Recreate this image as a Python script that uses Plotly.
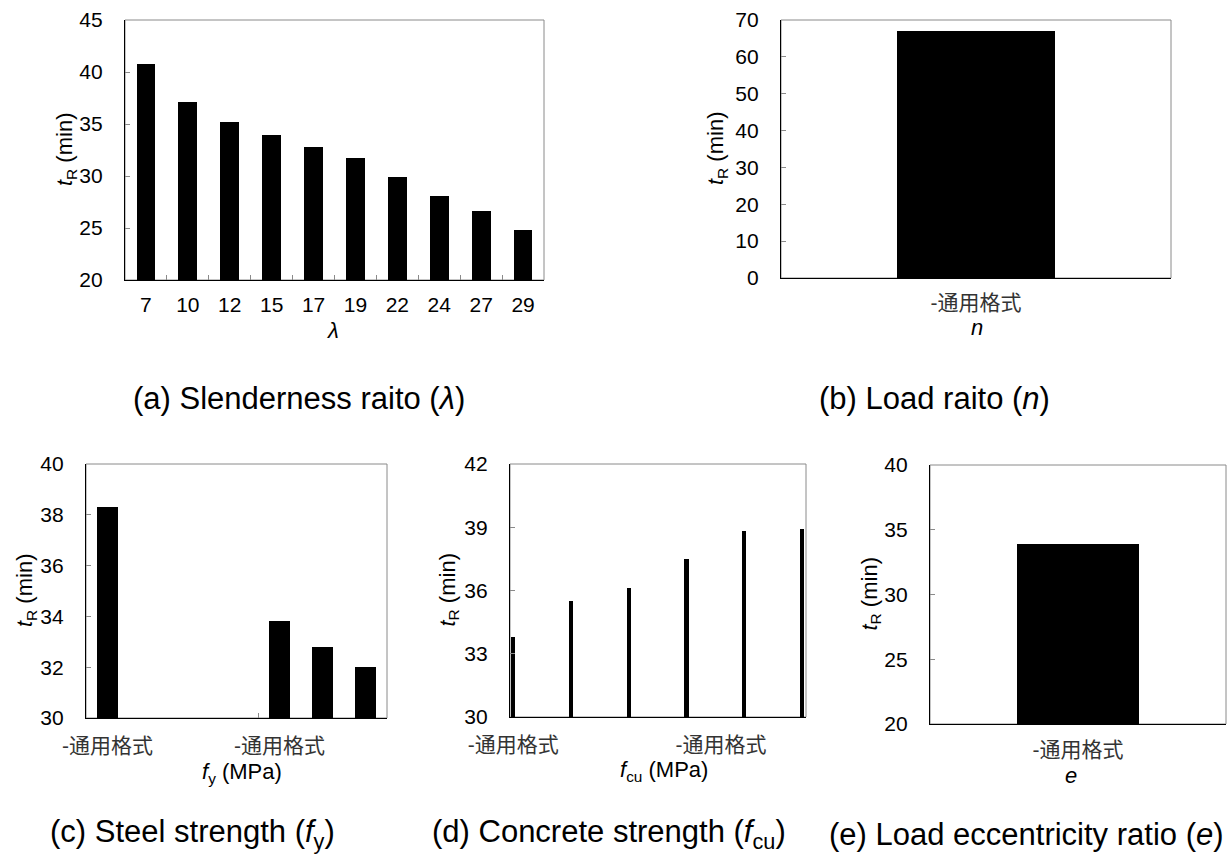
import plotly.graph_objects as go

W, H = 1228, 859

# ---------------- data ----------------
a_categories = ["7", "10", "12", "15", "17", "19", "22", "24", "27", "29"]
a_values = [40.8, 37.1, 35.2, 33.9, 32.8, 31.7, 29.9, 28.1, 26.6, 24.8]

b_categories = ["-通用格式"]
b_values = [67.0]

c_positions = [0, 1, 2, 3, 4, 5, 6]
c_values = [38.3, None, None, None, 33.8, 32.8, 32.0]
c_tick_positions = [0, 4]
c_tick_labels = ["-通用格式", "-通用格式"]

d_positions = [0, 1, 2, 3, 4, 5]
d_values = [33.8, 35.5, 36.1, 37.5, 38.8, 38.9]
d_tick_positions = [0, 3.6]
d_tick_labels = ["-通用格式", "-通用格式"]

e_categories = ["-通用格式"]
e_values = [33.9]

# ---------------- layout helpers ----------------
def px_x(x):
    return x / W

def px_y(y):
    return 1 - y / H

FONT = "Liberation Sans, Arial, Noto Sans CJK SC, sans-serif"
CJK = "Liberation Sans, Noto Sans CJK SC, sans-serif"
TICK_SIZE = 21
TITLE_SIZE = 22
CAP_SIZE = 31

panels = {
    "a": dict(x=(125, 544), y=(20, 280)),
    "b": dict(x=(781, 1171), y=(20, 278)),
    "c": dict(x=(86, 387), y=(464, 718)),
    "d": dict(x=(510, 806), y=(464, 717)),
    "e": dict(x=(930, 1226), y=(465, 724)),
}

fig = go.Figure()

bar_style = dict(marker=dict(color="black", line=dict(width=0)), showlegend=False, hoverinfo="skip")

fig.add_trace(go.Bar(x=a_categories, y=a_values, width=0.45, xaxis="x", yaxis="y", **bar_style))
fig.add_trace(go.Bar(x=b_categories, y=b_values, width=0.405, xaxis="x2", yaxis="y2", **bar_style))
fig.add_trace(go.Bar(x=c_positions, y=c_values, width=0.47, xaxis="x3", yaxis="y3", **bar_style))
fig.add_trace(go.Bar(x=d_positions, y=d_values, width=0.075, xaxis="x4", yaxis="y4", **bar_style))
fig.add_trace(go.Bar(x=e_categories, y=e_values, width=0.41, xaxis="x5", yaxis="y5", **bar_style))

def yaxis(panel, rng, dtick, anchor):
    p = panels[panel]
    return dict(
        domain=[px_y(p["y"][1]), px_y(p["y"][0])],
        range=rng, dtick=dtick, tick0=rng[0],
        showline=True, linecolor="black", linewidth=1.2,
        ticks="inside", ticklen=5, tickcolor="#8a8a8a", tickwidth=1,
        showgrid=False, zeroline=False, anchor=anchor, automargin=False,
        tickfont=dict(family=FONT, size=TICK_SIZE, color="black"),
        ticklabelstandoff=17,
    )

def xaxis_base(panel, anchor):
    p = panels[panel]
    return dict(
        domain=[px_x(p["x"][0]), px_x(p["x"][1])],
        showline=True, linecolor="black", linewidth=1.2,
        showgrid=False, zeroline=False, anchor=anchor, automargin=False,
        tickfont=dict(family=CJK, size=TICK_SIZE, color="#333333"),
        ticklabelstandoff=9,
    )

xa = xaxis_base("a", "y")
xa.update(type="category", tickson="boundaries", ticks="inside", ticklen=5,
          tickcolor="#8a8a8a", tickfont=dict(family=FONT, size=TICK_SIZE, color="black"),
          ticklabelstandoff=6)

xb = xaxis_base("b", "y2")
xb.update(type="category", ticks="", ticklabelstandoff=6)

xc = xaxis_base("c", "y3")
xc.update(range=[-0.5, 6.5], tickmode="array", tickvals=c_tick_positions, ticktext=c_tick_labels,
          ticks="", minor=dict(tickmode="array", tickvals=[3.5], ticks="inside", ticklen=5,
                               tickcolor="#8a8a8a"))

xd = xaxis_base("d", "y4")
xd.update(range=[-0.055, 5.07], tickmode="array", tickvals=d_tick_positions, ticktext=d_tick_labels,
          ticks="")

xe = xaxis_base("e", "y5")
xe.update(type="category", ticks="", ticklabelstandoff=7)

fig.update_layout(
    width=W, height=H,
    margin=dict(l=0, r=0, t=0, b=0, autoexpand=False),
    paper_bgcolor="white", plot_bgcolor="white",
    bargap=0,
    xaxis=xa, yaxis=yaxis("a", [20, 45], 5, "x"),
    xaxis2=xb, yaxis2=yaxis("b", [0, 70], 10, "x2"),
    xaxis3=xc, yaxis3=yaxis("c", [30, 40], 2, "x3"),
    xaxis4=xd, yaxis4=yaxis("d", [30, 42], 3, "x4"),
    xaxis5=xe, yaxis5=yaxis("e", [20, 40], 5, "x5"),
)

# gray frame (top/right) for each plot area
for xr, yr in [("x", "y"), ("x2", "y2"), ("x3", "y3"), ("x4", "y4"), ("x5", "y5")]:
    fig.add_shape(type="rect", xref=f"{xr} domain", yref=f"{yr} domain",
                  x0=0, x1=1, y0=0, y1=1, line=dict(color="#8a8a8a", width=1), layer="below")

ytitle = "<i>t</i><sub>R</sub> (min)"
annotations = []
# y titles
for xpx, panel in [(66, "a"), (717, "b"), (26, "c"), (448, "d"), (870, "e")]:
    p = panels[panel]
    annotations.append(dict(text=ytitle, x=px_x(xpx), y=px_y((p["y"][0] + p["y"][1]) / 2),
                            xref="paper", yref="paper", textangle=-90, showarrow=False,
                            xanchor="center", yanchor="middle",
                            font=dict(family=FONT, size=TITLE_SIZE, color="black")))
# x titles
for text, xpx, ypx in [("<i>λ</i>", 333, 331), ("<i>n</i>", 977, 328),
                       ("<i>f</i><sub>y</sub> (MPa)", 242, 773),
                       ("<i>f</i><sub>cu</sub> (MPa)", 664, 771),
                       ("<i>e</i>", 1071, 775)]:
    annotations.append(dict(text=text, x=px_x(xpx), y=px_y(ypx), xref="paper", yref="paper",
                            showarrow=False, xanchor="center", yanchor="middle",
                            font=dict(family=FONT, size=TITLE_SIZE, color="black")))
# captions
for text, xpx, ypx, anchor in [
    ("(a) Slenderness raito (<i>λ</i>)", 299, 398, "center"),
    ("(b) Load raito (<i>n</i>)", 934, 398, "center"),
    ("(c) Steel strength (<i>f</i><sub>y</sub>)", 193, 834, "center"),
    ("(d) Concrete strength (<i>f</i><sub>cu</sub>)", 609, 834, "center"),
    ("(e) Load eccentricity ratio (<i>e</i>)", 1226, 834, "right"),
]:
    annotations.append(dict(text=text, x=px_x(xpx), y=px_y(ypx), xref="paper", yref="paper",
                            showarrow=False, xanchor=anchor, yanchor="middle",
                            font=dict(family=FONT, size=CAP_SIZE, color="black")))

fig.update_layout(annotations=annotations)

fig.write_html("out.html")
